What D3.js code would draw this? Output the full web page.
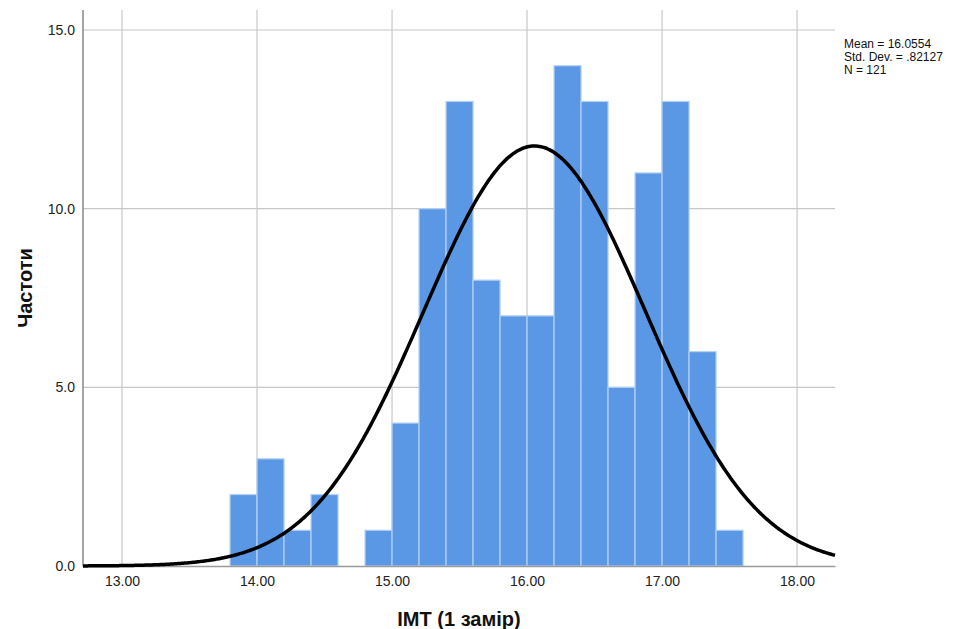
<!DOCTYPE html>
<html>
<head>
<meta charset="utf-8">
<script src="https://cdn.jsdelivr.net/npm/d3@7"></script>
<style>
  body { margin: 0; background: #fff; }
  svg { display: block; font-family: "Liberation Sans", Arial, sans-serif; }
</style>
</head>
<body>
<svg id="chart" width="965" height="629"></svg>
<script>
// Histogram bins (lower edge of each 0.2-wide bin) and counts
const binStarts = [13.8, 14.0, 14.2, 14.4, 14.6, 14.8, 15.0, 15.2, 15.4, 15.6, 15.8, 16.0, 16.2, 16.4, 16.6, 16.8, 17.0, 17.2, 17.4];
const counts    = [2, 3, 1, 2, 0, 1, 4, 10, 13, 8, 7, 7, 14, 13, 5, 11, 13, 6, 1];
const binWidth = 0.2;

// Summary statistics
const mean = 16.0554;
const stdDev = 0.82127;
const n = 121;
const statLines = ["Mean = 16.0554", "Std. Dev. = .82127", "N = 121"];

const xTicks = [13, 14, 15, 16, 17, 18];
const yTicks = [0, 5, 10, 15];

const svg = d3.select("#chart");
const plotLeft = 83, plotRight = 835, plotTop = 10, plotBottom = 566;

const x = d3.scaleLinear().domain([12.711, 18.281]).range([plotLeft, plotRight]);
const y = d3.scaleLinear().domain([0, 15]).range([plotBottom, 30]);

// Grid lines
const grid = svg.append("g");
grid.selectAll("line.v").data(xTicks).join("line")
  .attr("class", "v")
  .attr("x1", d => x(d)).attr("x2", d => x(d))
  .attr("y1", plotTop).attr("y2", plotBottom)
  .attr("stroke", "#c8c8c8").attr("stroke-width", 1.2);
grid.selectAll("line.h").data(yTicks.filter(d => d > 0)).join("line")
  .attr("class", "h")
  .attr("x1", plotLeft).attr("x2", plotRight)
  .attr("y1", d => y(d)).attr("y2", d => y(d))
  .attr("stroke", "#c8c8c8").attr("stroke-width", 1.2);

// Bars
svg.append("g").selectAll("rect").data(binStarts.map((s, i) => ({s, c: counts[i]})).filter(d => d.c > 0))
  .join("rect")
  .attr("x", d => x(d.s))
  .attr("y", d => y(d.c))
  .attr("width", d => x(d.s + binWidth) - x(d.s))
  .attr("height", d => y(0) - y(d.c))
  .attr("fill", "#5595e4")
  .attr("fill-opacity", 0.97)
  .attr("stroke", "#b4d0f3")
  .attr("stroke-width", 1.2);

// Axes
const xAxis = d3.axisBottom(x).tickValues(xTicks).tickFormat(d3.format(".2f")).tickSize(0).tickPadding(10);
const gx = svg.append("g").attr("transform", `translate(0,${plotBottom})`).call(xAxis);
gx.select(".domain").attr("stroke", "#9a9a9a").attr("stroke-width", 1.5);
gx.selectAll("text").attr("font-size", 14).attr("fill", "#222").attr("font-family", "Liberation Sans, Arial, sans-serif");

const yAxis = d3.axisLeft(y).tickValues(yTicks).tickFormat(d3.format(".1f")).tickSize(0).tickPadding(8);
const gy = svg.append("g").attr("transform", `translate(${plotLeft},0)`).call(yAxis);
gy.select(".domain").remove();
gy.selectAll("text").attr("font-size", 14).attr("fill", "#222").attr("font-family", "Liberation Sans, Arial, sans-serif");
svg.append("line").attr("x1", plotLeft).attr("x2", plotLeft).attr("y1", plotTop).attr("y2", plotBottom)
  .attr("stroke", "#888").attr("stroke-width", 1.5);

// Fitted normal curve scaled to counts
const normal = v => n * binWidth / (stdDev * Math.sqrt(2 * Math.PI)) * Math.exp(-0.5 * ((v - mean) / stdDev) ** 2);
const xs = d3.range(0, 401).map(i => x.domain()[0] + i * (x.domain()[1] - x.domain()[0]) / 400);
svg.append("path")
  .datum(xs)
  .attr("d", d3.line().x(d => x(d)).y(d => y(normal(d))).curve(d3.curveBasis))
  .attr("fill", "none").attr("stroke", "#000").attr("stroke-width", 3.5);

// Statistics block
svg.append("g").selectAll("text").data(statLines).join("text")
  .attr("x", 844).attr("y", (d, i) => 48 + i * 13)
  .attr("font-size", 12).attr("fill", "#111")
  .text(d => d);

// Axis titles
svg.append("text").attr("x", 459).attr("y", 626).attr("text-anchor", "middle")
  .attr("font-size", 20).attr("font-weight", "bold").attr("fill", "#111")
  .text("IMT (1 замір)");
svg.append("text").attr("transform", "translate(32,288) rotate(-90)").attr("text-anchor", "middle")
  .attr("font-size", 20).attr("font-weight", "bold").attr("fill", "#111")
  .text("Частоти");
</script>
</body>
</html>
